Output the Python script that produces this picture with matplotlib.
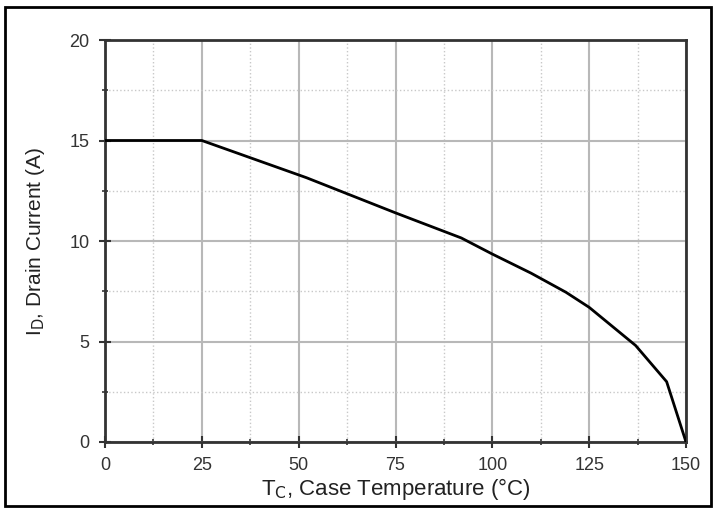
import matplotlib
matplotlib.use("Agg")
import matplotlib.pyplot as plt
from matplotlib.patches import Rectangle
from matplotlib.ticker import MultipleLocator

plt.rcParams['font.family'] = ['Liberation Sans', 'DejaVu Sans']

# derating curve
case_temp = [0, 25, 52, 75, 92, 100, 110, 119, 125, 131, 137, 141, 145, 150]
drain_current = [15, 15, 13.15, 11.4, 10.15, 9.35, 8.4, 7.45, 6.7, 5.75, 4.8, 3.9, 3.0, 0]

x_ticks = [0, 25, 50, 75, 100, 125, 150]
y_ticks = [0, 5, 10, 15, 20]

fig = plt.figure(figsize=(7.16, 5.11), dpi=100)
ax = fig.add_axes([105 / 716, 1 - 442 / 511, 581 / 716, 402 / 511])

# outer black frame
fig.patches.append(Rectangle((5 / 716, 5 / 511), 706 / 716, 499 / 511,
                             transform=fig.transFigure, fill=False,
                             edgecolor='black', linewidth=2))

ax.plot(case_temp, drain_current, color='black', linewidth=2, zorder=3)

ax.set_xlim(0, 150)
ax.set_ylim(0, 20)
ax.set_xticks(x_ticks)
ax.set_yticks(y_ticks)
ax.xaxis.set_minor_locator(MultipleLocator(12.5))
ax.yaxis.set_minor_locator(MultipleLocator(2.5))

ax.grid(which='major', color='#b8b8b8', linewidth=1.5, linestyle='-')
ax.grid(which='minor', color='#c8c8c8', linewidth=1.0, linestyle=':')
ax.set_axisbelow(True)

for s in ax.spines.values():
    s.set_color('#333333')
    s.set_linewidth(2)

ax.tick_params(which='major', direction='inout', length=8, width=1.5,
               color='#333333', labelsize=13, labelcolor='#333333', pad=7)
ax.tick_params(which='minor', direction='inout', length=5, width=1.2,
               color='#333333')

ax.set_xlabel(r'T$_\mathrm{C}$, Case Temperature (°C)', fontsize=16, color='#222222')
ax.set_ylabel(r'I$_\mathrm{D}$, Drain Current (A)', fontsize=15, color='#222222')
ax.xaxis.set_label_coords(0.5, -0.085)
ax.yaxis.set_label_coords(-0.1, 0.5)

fig.savefig('out.png', dpi=100)
